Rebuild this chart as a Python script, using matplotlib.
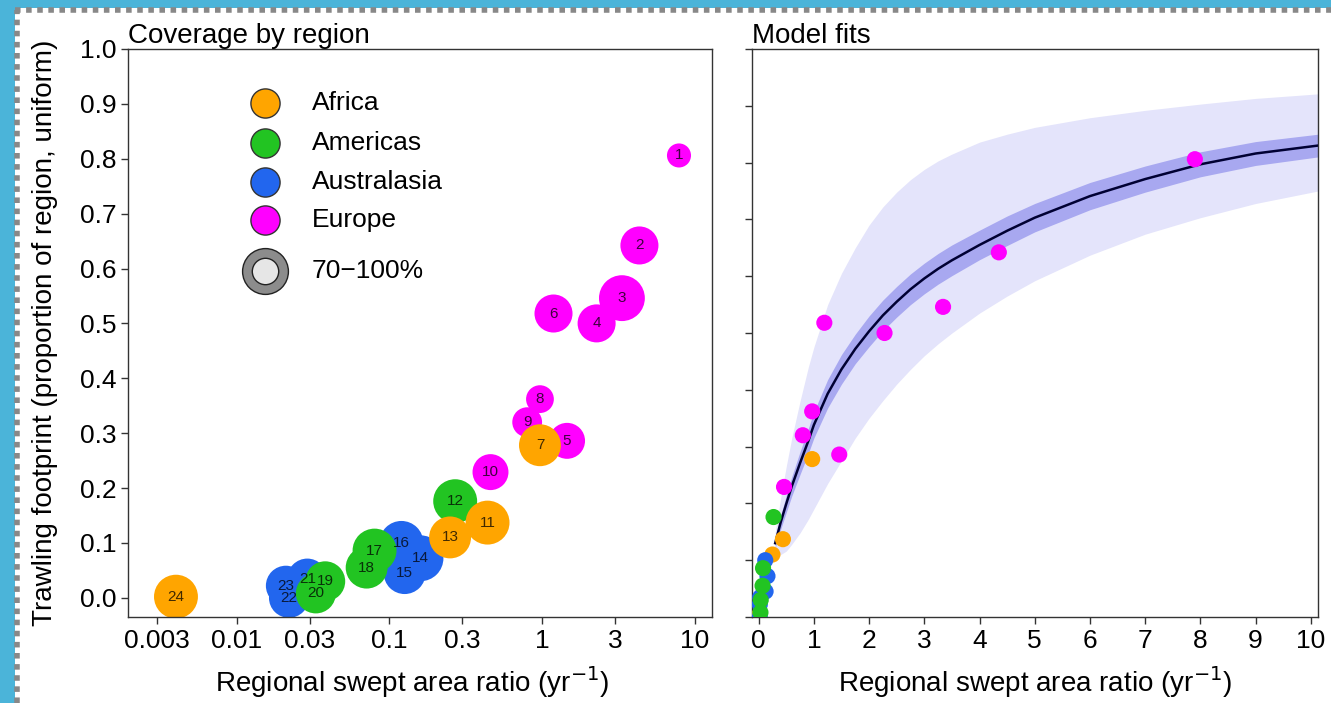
import matplotlib
matplotlib.use("Agg")
import matplotlib.pyplot as plt
from matplotlib.patches import Rectangle
from matplotlib.lines import Line2D
import numpy as np

plt.rcParams["font.family"] = ["Liberation Sans", "DejaVu Sans"]

# --- data ------------------------------------------------------------------
ids     = list(range(1, 25))
region  = ["Europe"] * 6 + ["Africa", "Europe", "Europe", "Europe", "Africa", "Americas", "Africa",
           "Australasia", "Australasia", "Australasia", "Americas", "Americas", "Americas", "Americas",
           "Australasia", "Australasia", "Australasia", "Africa"]
sar     = [7.9, 4.35, 3.34, 2.28, 1.46, 1.19, 0.97, 0.97, 0.80, 0.46, 0.44, 0.27, 0.25,
           0.16, 0.126, 0.12, 0.08, 0.071, 0.038, 0.033, 0.029, 0.022, 0.021, 0.004]
footpr  = [0.806, 0.642, 0.546, 0.500, 0.286, 0.518, 0.278, 0.362, 0.320, 0.229, 0.137, 0.176, 0.110,
           0.072, 0.045, 0.100, 0.086, 0.055, 0.030, 0.008, 0.035, 0.000, 0.022, 0.002]
rel_area = [0.30, 0.75, 1.09, 0.75, 0.67, 0.75, 0.91, 0.40, 0.46, 0.67, 1.00, 1.00, 0.91,
            1.09, 0.91, 1.00, 1.00, 0.91, 0.83, 0.83, 0.83, 0.83, 0.83, 1.00]

regions = ["Africa", "Americas", "Australasia", "Europe"]
colors  = {"Africa": "#FFA500", "Americas": "#22C422", "Australasia": "#2266EE", "Europe": "#FF00FF"}
order_left  = ["Europe", "Australasia", "Americas", "Africa"]
order_right = ["Africa", "Europe", "Australasia", "Americas"]

# model fit (curve + inner / outer bands), read along the x axis
fit_x   = [0.3, 0.4, 0.5, 0.6, 0.75, 0.9, 1.0, 1.25, 1.5, 1.75, 2.0, 2.25, 2.5, 2.75, 3.0, 3.25,
           3.5, 4.0, 4.5, 5.0, 6.0, 7.0, 8.0, 9.0, 10.13]
fit_mid = [0.13, 0.167, 0.199, 0.23, 0.271, 0.31, 0.338, 0.393, 0.436, 0.472, 0.503, 0.531, 0.555,
           0.577, 0.596, 0.613, 0.628, 0.655, 0.680, 0.703, 0.741, 0.771, 0.797, 0.816, 0.830]
fit_hi  = [0.15, 0.21, 0.265, 0.315, 0.38, 0.44, 0.475, 0.55, 0.605, 0.65, 0.69, 0.722, 0.748,
           0.770, 0.788, 0.803, 0.815, 0.836, 0.850, 0.862, 0.879, 0.892, 0.903, 0.913, 0.921]
fit_lo  = [0.105, 0.11, 0.116, 0.128, 0.148, 0.172, 0.19, 0.235, 0.275, 0.315, 0.35, 0.381, 0.41,
           0.436, 0.46, 0.481, 0.50, 0.535, 0.565, 0.592, 0.637, 0.674, 0.703, 0.728, 0.75]
inner_half = [0.008, 0.012, 0.015, 0.017, 0.02, 0.022, 0.023, 0.025, 0.026, 0.026, 0.027, 0.027,
              0.027, 0.027, 0.027, 0.027, 0.027, 0.026, 0.026, 0.025, 0.024, 0.023, 0.022, 0.021, 0.02]

log_ticks   = [0.003, 0.01, 0.03, 0.1, 0.3, 1, 3, 10]
log_ticklab = ["0.003", "0.01", "0.03", "0.1", "0.3", "1", "3", "10"]
legend_lab  = regions + ["70\u2212100%"]

# --- figure -----------------------------------------------------------------
fig = plt.figure(figsize=(13.31, 7.03), dpi=100, facecolor="#4BB4D9")
fig.patches.append(Rectangle((15 / 1331, 0), 1, 1 - 8 / 703, transform=fig.transFigure,
                             facecolor="white", edgecolor="none", zorder=-10))
fig.add_artist(Line2D([15 / 1331, 1], [1 - 10 / 703] * 2, transform=fig.transFigure,
                      color="#888888", lw=4, dashes=(1, 1)))
fig.add_artist(Line2D([17 / 1331] * 2, [0, 1 - 10 / 703], transform=fig.transFigure,
                      color="#888888", lw=4, dashes=(1, 1)))

ax1 = fig.add_axes([128 / 1331, 1 - 617 / 703, 584 / 1331, 568 / 703])
ax2 = fig.add_axes([752 / 1331, 1 - 617 / 703, 566 / 1331, 568 / 703])

sar_a, fp_a, ra_a = np.array(sar), np.array(footpr), np.array(rel_area)
reg_a = np.array(region)

# left: bubbles
for r in order_left:
    m = reg_a == r
    ax1.scatter(sar_a[m], fp_a[m], s=ra_a[m] * 1000, color=colors[r], edgecolors="none", zorder=2)
for i, x, y in zip(ids, sar, footpr):
    ax1.text(x, y, str(i), ha="center", va="center", fontsize=11, color="black", alpha=0.75, zorder=3)

ax1.set_xscale("log")
ax1.set_xlim(0.00194, 13.0)
ax1.set_ylim(-0.035, 1.0)
ax1.set_xticks(log_ticks)
ax1.set_xticklabels(log_ticklab)
ax1.xaxis.set_minor_locator(matplotlib.ticker.NullLocator())
ax1.set_yticks(np.arange(0, 1.01, 0.1))
ax1.set_yticklabels([f"{v:.1f}" for v in np.arange(0, 1.01, 0.1)])
ax1.set_title("Coverage by region", loc="left", fontsize=20, pad=3.5)
ax1.set_xlabel("Regional swept area ratio (yr$^{-1}$)", fontsize=20)
ax1.set_ylabel("Trawling footprint (proportion of region, uniform)", fontsize=20)
ax1.xaxis.set_label_coords(0.486, -0.083)
ax1.yaxis.set_label_coords(-0.12, 0.5)

# manual legend
leg_y = [0.905, 0.8345, 0.766, 0.699]
for r, yy in zip(regions, leg_y):
    ax1.plot([0.2346], [yy], "o", ms=21, mfc=colors[r], mec="#333333", mew=1, transform=ax1.transAxes,
             clip_on=False)
ax1.plot([0.2346], [0.609], "o", ms=33, mfc="#8c8c8c", mec="#222222", mew=1, transform=ax1.transAxes)
ax1.plot([0.2346], [0.609], "o", ms=19, mfc="#e6e6e6", mec="#222222", mew=1, transform=ax1.transAxes)
for lab, yy in zip(legend_lab, leg_y + [0.609]):
    ax1.text(0.315, yy, lab, transform=ax1.transAxes, fontsize=19, va="center", ha="left")

# right: model fits
fx = np.array(fit_x)
fm = np.array(fit_mid)
ih = np.array(inner_half)
ax2.fill_between(fx, fit_lo, fit_hi, color="#E4E4FB", lw=0, zorder=1)
ax2.fill_between(fx, fm - ih, fm + ih, color="#A8A8F0", lw=0, zorder=2)
ax2.plot(fx, fm, color="#000033", lw=1.8, zorder=3)
for r in order_right:
    m = reg_a == r
    ax2.scatter(sar_a[m], fp_a[m], s=135, color=colors[r], edgecolors="none", zorder=4)
ax2.set_xlim(-0.12, 10.13)
ax2.set_ylim(0, 1)
ax2.set_xticks(range(0, 11))
ax2.set_yticks(np.arange(0, 1.01, 0.1))
ax2.set_yticklabels([])
ax2.set_title("Model fits", loc="left", fontsize=20, pad=3.5)
ax2.set_xlabel("Regional swept area ratio (yr$^{-1}$)", fontsize=20)
ax2.xaxis.set_label_coords(0.5, -0.083)

for ax in (ax1, ax2):
    ax.tick_params(labelsize=19, length=5, width=1, color="#333333", direction="out")
    for s in ax.spines.values():
        s.set_color("#333333"); s.set_linewidth(1)

fig.savefig("out.png", dpi=100, facecolor=fig.get_facecolor())
